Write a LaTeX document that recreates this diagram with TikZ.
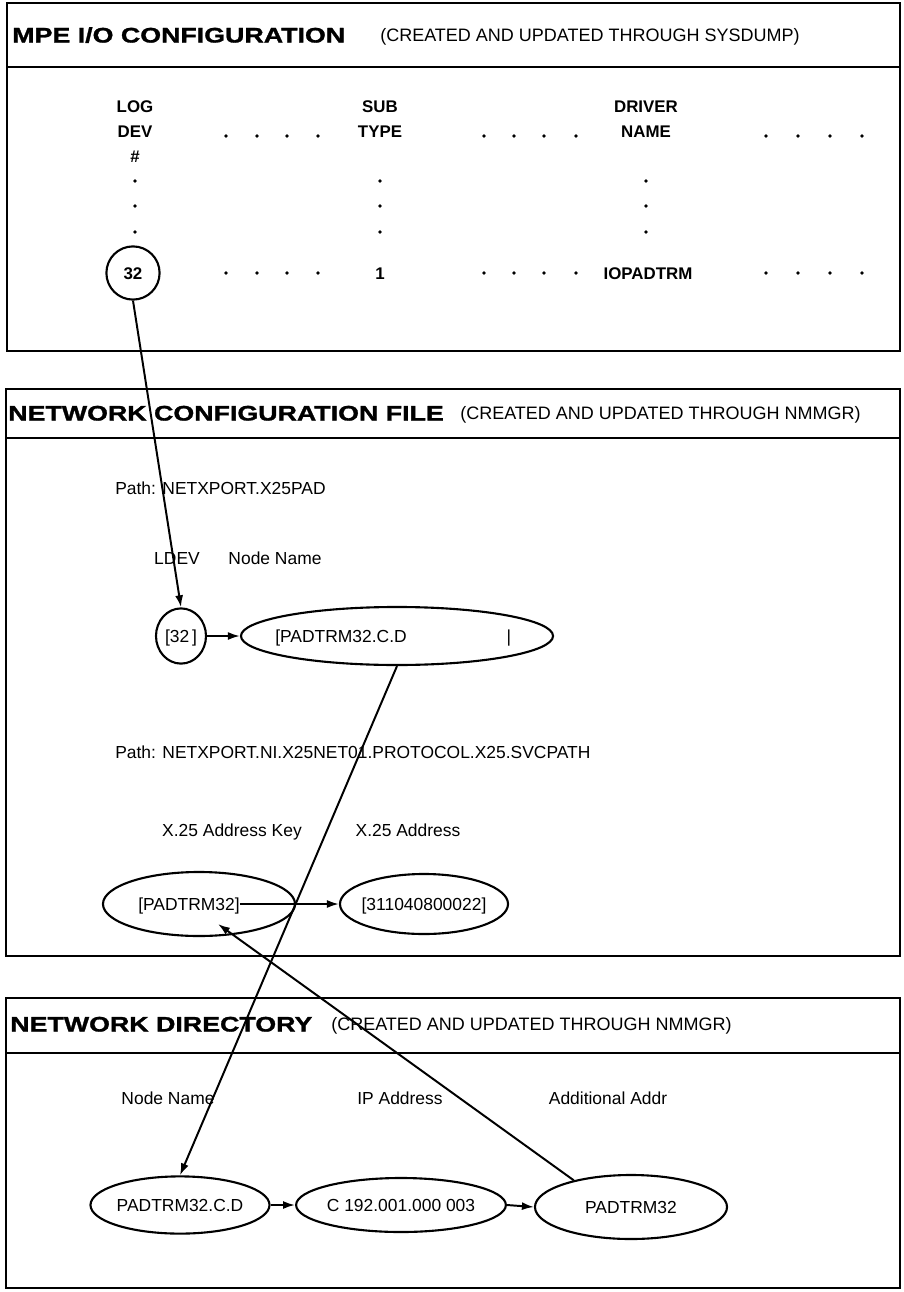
\documentclass[tikz,border=0pt]{standalone}
\usepackage{fontspec}
\setmainfont{Liberation Sans}
\newfontfamily\widefont[FakeStretch=1.27, BoldFeatures={FakeBold=1.4}]{Liberation Sans}
\usetikzlibrary{arrows.meta,shapes.geometric}

\tikzset{
  panel/.style={line width=2pt},
  ttl/.style={anchor=west, inner sep=0pt, text height=10.7pt, text depth=0pt, font=\widefont\bfseries\fontsize{15}{18}\selectfont},
  sub/.style={anchor=west, inner sep=0pt, text height=9.2pt, text depth=0pt, font=\fontsize{12.8}{14}\selectfont},
  txt/.style={inner sep=0pt, text height=8.9pt, text depth=0pt, font=\fontsize{12.4}{14}\selectfont},
  hd/.style={inner sep=0pt, text height=8.6pt, text depth=0pt, font=\bfseries\fontsize{12}{14}\selectfont},
  rec/.style={draw, ellipse, line width=1.5pt, inner sep=0pt},
  lnk/.style={draw, line width=1.4pt, -{Latex[length=0.3cm,width=0.2cm]}},
  pt/.style={circle, fill, inner sep=0pt, minimum size=0.09cm},
}

\begin{document}
\begin{tikzpicture}[x=0.025cm, y=-0.025cm]
    \useasboundingbox (0,0) rectangle (903,1292);
    % MPE I/O configuration
    \path[draw, panel] (7,3) rectangle (900,351) (7,67) -- (900,67);
    \node[ttl] (t1) at (12,35) {MPE I/O CONFIGURATION};
    \node[sub] (s1) at (380,35) {(CREATED AND UPDATED THROUGH SYSDUMP)};
    \node[hd] (hlog) at (135,106) {LOG};
    \node[hd] (hdev) at (135,131) {DEV};
    \node[hd] (hnum) at (135,156) {\#};
    \node[hd] (hsub) at (380,106) {SUB};
    \node[hd] (htyp) at (380,131) {TYPE};
    \node[hd] (hdrv) at (646,106) {DRIVER};
    \node[hd] (hnam) at (646,131) {NAME};
    \node[rec, minimum size=1.33cm, hd] (dev32) at (133,273) {32};
    \node[hd] (typ1) at (380,273) {1};
    \node[hd] (drv) at (648,273) {IOPADTRM};
    % dots
    \foreach \y in {136,273}
    {
        \foreach \x in {226,257,287,318,484,514,544,576,766,798,830,862}
            \node[pt] at (\x,\y) {};
    }
    \foreach \x in {135,380,646}
    {
        \foreach \y in {181,206,232}
            \node[pt] at (\x,\y) {};
    }
    % network configuration file
    \path[draw, panel] (6,389) rectangle (900,956) (6,438) -- (900,438);
    \node[ttl] (t2) at (8,413) {NETWORK CONFIGURATION FILE};
    \node[sub] (s2) at (460,413) {(CREATED AND UPDATED THROUGH NMMGR)};
    \node[txt, anchor=west] (p1) at (115,488) {Path: NETXPORT.X25PAD};
    \node[txt] (lldev) at (177,558) {LDEV};
    \node[txt] (lnode) at (275,558) {Node Name};
    \node[rec, minimum width=1.25cm, minimum height=1.38cm] (ldev) at (181,636) {};
    \node[txt] (ldevtxt) at (181,636) {[32\,]};
    \node[rec, minimum width=7.8cm, minimum height=1.45cm] (nn) at (397,636) {};
    \node[txt, anchor=west] (nntxt) at (275,636) {[PADTRM32.C.D};
    \node[txt] (nnbar) at (509,636) {|};
    \node[txt, anchor=west] (p2) at (115,752) {Path: NETXPORT.NI.X25NET01.PROTOCOL.X25.SVCPATH};
    \node[txt] (lkey) at (232,830) {X.25 Address Key};
    \node[txt] (laddr) at (408,830) {X.25 Address};
    \node[rec, minimum width=4.8cm, minimum height=1.6cm] (key) at (199,904) {};
    \node[txt] (keytxt) at (189,904) {[PADTRM32]};
    \node[rec, minimum width=4.2cm, minimum height=1.5cm] (addr) at (424,904) {};
    \node[txt] (addrtxt) at (424,904) {[311040800022]};
    % network directory
    \path[draw, panel] (6,998) rectangle (900,1288) (6,1053) -- (900,1053);
    \node[ttl] (t3) at (10,1024) {NETWORK DIRECTORY};
    \node[sub] (s3) at (331,1024) {(CREATED AND UPDATED THROUGH NMMGR)};
    \node[txt] (lnd) at (168,1098) {Node Name};
    \node[txt] (lip) at (400,1098) {IP Address};
    \node[txt] (ladd) at (608,1098) {Additional Addr};
    \node[rec, minimum width=4.25cm, minimum height=1.43cm, txt] (nd) at (180,1205) {PADTRM32.C.D};
    \node[rec, minimum width=5cm, minimum height=1.35cm, txt] (ip) at (401,1205) {C 192.001.000 003};
    \node[rec, minimum width=4.8cm, minimum height=1.6cm, txt] (add) at (631,1207) {PADTRM32};
    \coordinate (keyhit) at (218,924);
    % links
    \path[lnk] (dev32.south) to (ldev.north);
    \path[lnk] (ldev.east) to (nn.west);
    \path[lnk] (nn.south) to (nd.north);
    \path[lnk] (keytxt.east) to (addr.west);
    \path[lnk] (add.155) to (keyhit);
    \path[lnk] (nd.east) to (ip.west);
    \path[lnk] (ip.east) to (add.west);
\end{tikzpicture}
\end{document}
